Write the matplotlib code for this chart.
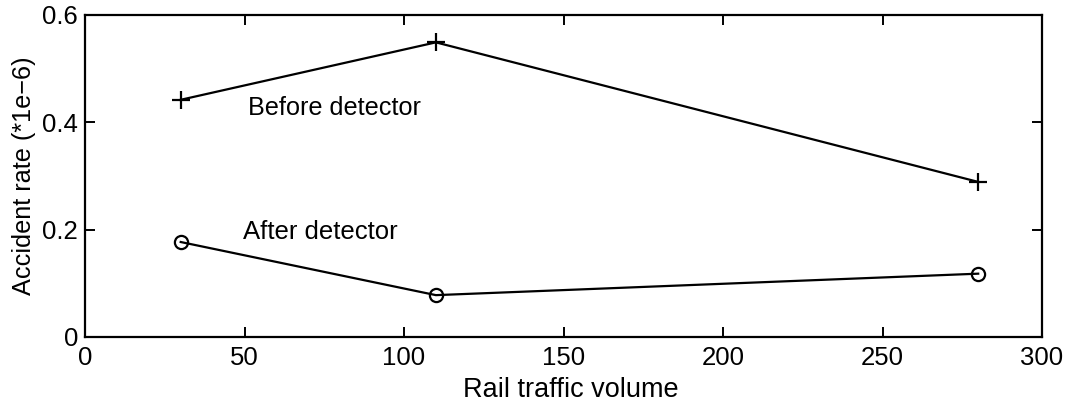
import matplotlib
matplotlib.use("Agg")
import matplotlib.pyplot as plt

plt.rcParams['font.family'] = ['Liberation Sans', 'DejaVu Sans']

# Rail traffic volume and accident rates (x 1e-6)
traffic_volume = [30, 110, 280]
rate_before = [0.442, 0.549, 0.289]
rate_after = [0.177, 0.078, 0.118]

x_ticks = [0, 50, 100, 150, 200, 250, 300]
y_ticks = [0, 0.2, 0.4, 0.6]
y_tick_labels = ["0", "0.2", "0.4", "0.6"]

fig = plt.figure(figsize=(10.71, 4.04), dpi=100)
ax = fig.add_axes([85 / 1071, 1 - 337 / 404, (1042 - 85) / 1071, (337 - 15) / 404])

ax.plot(traffic_volume, rate_before, color='black', lw=1.6,
        marker='+', markersize=13, markeredgewidth=1.6)
ax.plot(traffic_volume, rate_after, color='black', lw=1.6,
        marker='o', markersize=9.5, markerfacecolor='none', markeredgewidth=1.6)

ax.text(51, 0.427, "Before detector", fontsize=18.2, va='center', ha='left')
ax.text(49.5, 0.196, "After detector", fontsize=18.5, va='center', ha='left')

ax.set_xlim(0, 300)
ax.set_ylim(0, 0.6)
ax.set_xticks(x_ticks)
ax.set_yticks(y_ticks)
ax.set_yticklabels(y_tick_labels)
ax.tick_params(direction='in', length=7, width=1.4, top=True, right=True,
               labelsize=18.5)
ax.tick_params(axis='x', pad=6.5)
ax.tick_params(axis='y', pad=5)
for s in ax.spines.values():
    s.set_linewidth(1.6)

ax.set_xlabel("Rail traffic volume", fontsize=19.5, va='baseline')
ax.xaxis.set_label_coords(0.508, -0.186)
ax.set_ylabel("Accident rate (*1e\u22126)", fontsize=18.2, va='center', ha='center')
ax.yaxis.set_label_coords(-0.0637, 0.5)

fig.savefig("out.png", dpi=100)
